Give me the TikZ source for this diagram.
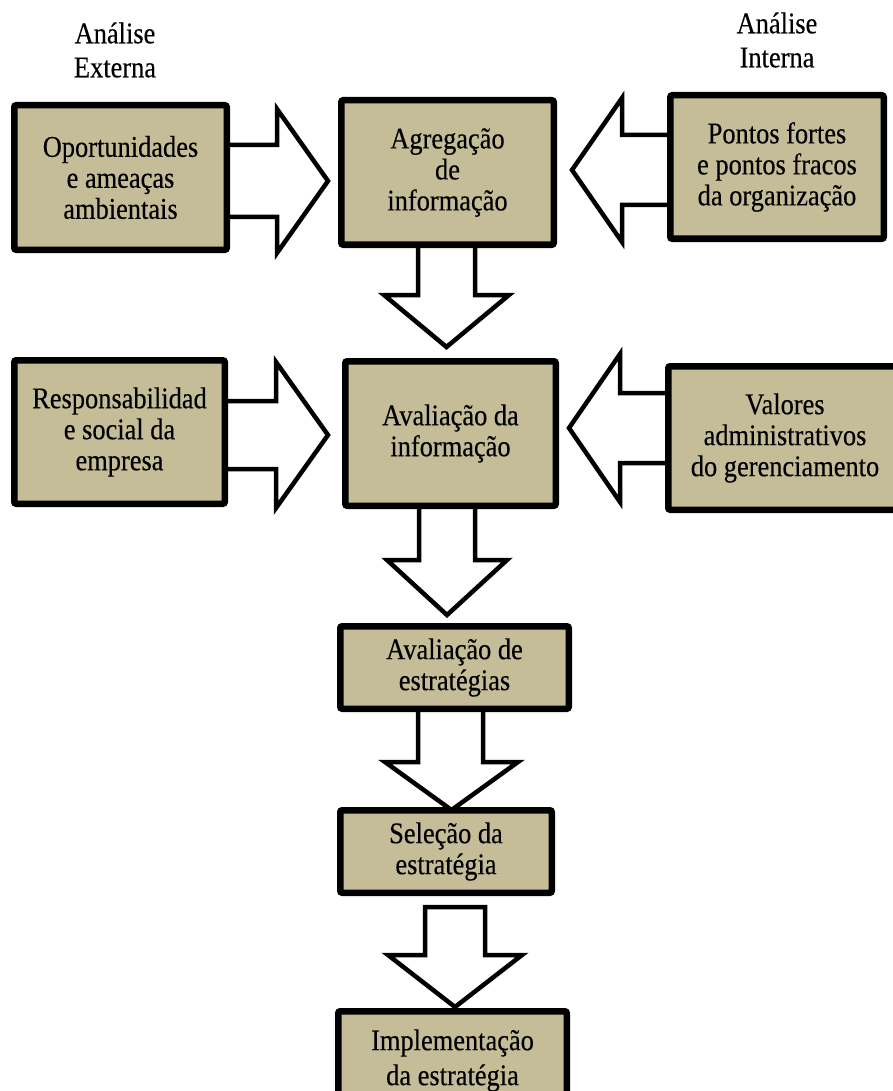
\documentclass[tikz,border=0pt]{standalone}
\usepackage{fontspec}
\setmainfont{Liberation Serif}[FakeStretch=0.88,FakeBold=0.3]
\usetikzlibrary{backgrounds}
\definecolor{boxtan}{RGB}{196,189,151}

\begin{document}
\begin{tikzpicture}[x=1pt,y=1pt]
\tikzset{
  stepbox/.style={draw, line width=6.5pt, fill=boxtan, rounded corners=2pt,
    align=center, inner sep=2pt, font=\fontsize{30}{31}\selectfont},
  headtext/.style={align=center, font=\fontsize{30}{34}\selectfont},
  blockarrow/.style={draw, line width=4.5pt, fill=white, line join=miter}
}
\useasboundingbox (0,0) rectangle (893,-1091);
% headers
\node[headtext] (headext) at (115,-50) {Análise\\Externa};
\node[headtext] (headint) at (777,-40) {Análise\\Interna};
% first row
\node[stepbox, minimum width=212.5pt, minimum height=144.5pt] (oport) at (120.5,-177.5) {Oportunidades\\e ameaças\\ambientais};
\node[stepbox, minimum width=212.5pt, minimum height=144.5pt] (agreg) at (447.5,-172.5) {Agregação\\de\\informação};
\node[stepbox, minimum width=213.5pt, minimum height=143.5pt] (pontos) at (777,-167) {Pontos fortes\\e pontos fracos\\da organização};
% second row
\node[stepbox, minimum width=210.5pt, minimum height=143.5pt] (resp) at (119.5,-432) {Responsabilidad\\e social da\\empresa};
\node[stepbox, minimum width=210.5pt, minimum height=144.5pt] (avinfo) at (450.5,-433.5) {Avaliação da\\informação};
\node[stepbox, minimum width=233.5pt, minimum height=143.5pt] (valores) at (785,-438) {Valores\\administrativos\\do gerenciamento};
% the chain below
\node[stepbox, minimum width=228.5pt, minimum height=82.5pt] (avestr) at (454.5,-667.5) {Avaliação de\\estratégias};
\node[stepbox, minimum width=211.5pt, minimum height=82.5pt] (selecao) at (446,-851.5) {Seleção da\\estratégia};
\node[stepbox, minimum width=228.5pt, minimum height=98.5pt, font=\fontsize{30}{35}\selectfont] (implem) at (452.5,-1060.5) {Implementação\\da estratégia};
% block arrows behind the boxes
\begin{scope}[on background layer]
\draw[blockarrow] ([xshift=-8pt,yshift=32.5pt]oport.east) -- ++(55,0) -- ++(0,36) -- ++(51,-72) -- ++(-51,-72) -- ++(0,36) -- ++(-55,0) -- cycle;
\draw[blockarrow] ([xshift=8pt,yshift=32pt]pontos.west) -- ++(-53,0) -- ++(0,37) -- ++(-50,-72) -- ++(50,-72) -- ++(0,37) -- ++(53,0) -- cycle;
\draw[blockarrow] ([xshift=-8pt,yshift=31pt]resp.east) -- ++(56,0) -- ++(0,39) -- ++(52,-73) -- ++(-52,-73) -- ++(0,39) -- ++(-56,0) -- cycle;
\draw[blockarrow] ([xshift=8pt,yshift=45pt]valores.west) -- ++(-53,0) -- ++(0,39) -- ++(-51,-74) -- ++(51,-74) -- ++(0,39) -- ++(53,0) -- cycle;
\draw[blockarrow] ([xshift=-29.5pt,yshift=8pt]agreg.south) -- ++(0,-55) -- ++(-34,0) -- ++(62.5,-52) -- ++(62.5,52) -- ++(-34,0) -- ++(0,55) -- cycle;
\draw[blockarrow] ([xshift=-31.5pt,yshift=8pt]avinfo.south) -- ++(0,-59) -- ++(-32,0) -- ++(60,-55) -- ++(60,55) -- ++(-32,0) -- ++(0,59) -- cycle;
\draw[blockarrow] ([xshift=-36.5pt,yshift=8pt]avestr.south) -- ++(0,-58) -- ++(-33,0) -- ++(66.5,-48) -- ++(66.5,48) -- ++(-35,0) -- ++(0,58) -- cycle;
\draw[blockarrow] ([xshift=-21pt,yshift=-11pt]selecao.south) -- ++(0,-48) -- ++(-37,0) -- ++(67,-52) -- ++(67,52) -- ++(-37,0) -- ++(0,48) -- cycle;
\end{scope}
\end{tikzpicture}
\end{document}
